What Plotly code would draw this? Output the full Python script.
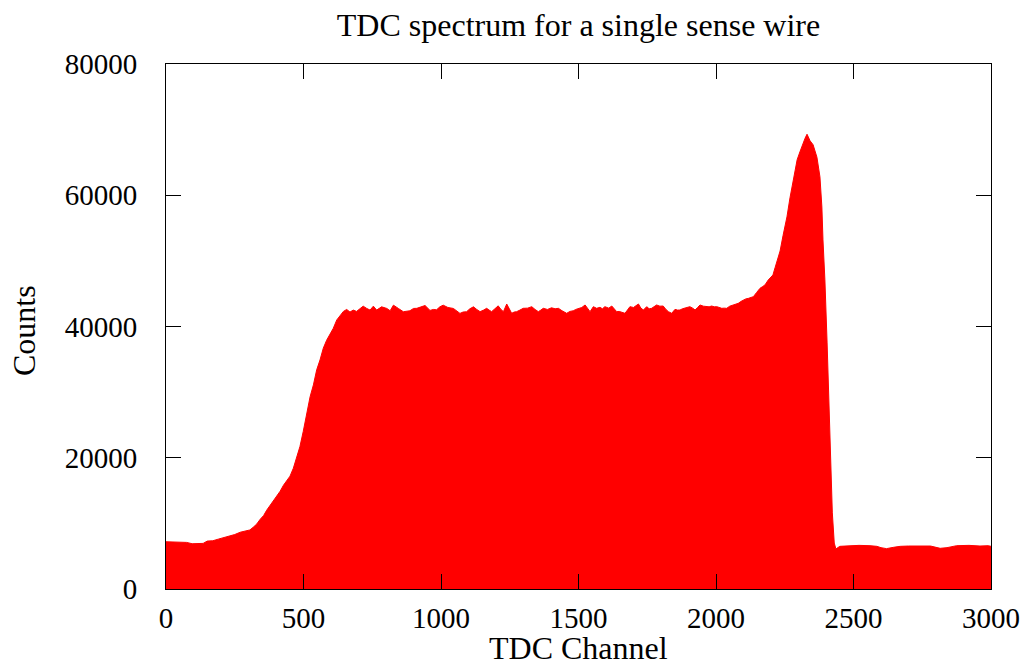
import plotly.graph_objects as go

# TDC channel positions and recorded counts along the spectrum envelope
channel = [
    0, 25, 50, 75, 95, 115, 135, 150, 170, 190, 210, 230, 250, 270, 290, 305,
    317, 330, 342, 355, 366, 380, 390, 402, 415, 427, 440, 451, 463, 475, 487,
    499, 511, 524, 536, 548, 560, 572, 584, 596, 608, 621, 633, 645, 657, 669,
    681, 693, 705, 717, 730, 742, 754, 766, 784, 803, 815, 827, 845, 863, 887,
    900, 912, 926, 942, 960, 972, 984, 996, 1008, 1025, 1045, 1060, 1069, 1080,
    1093, 1105, 1118, 1130, 1142, 1155, 1166, 1175, 1184, 1196, 1208, 1218,
    1227, 1239, 1248, 1257, 1266, 1275, 1287, 1299, 1315, 1330, 1342, 1354,
    1363, 1372, 1387, 1402, 1415, 1427, 1440, 1457, 1469, 1481, 1490, 1499,
    1512, 1524, 1533, 1542, 1554, 1566, 1578, 1587, 1596, 1610, 1621, 1630,
    1639, 1648, 1657, 1669, 1678, 1687, 1700, 1710, 1718, 1727, 1736, 1748,
    1757, 1766, 1775, 1784, 1796, 1808, 1818, 1827, 1839, 1851, 1860, 1869,
    1878, 1887, 1896, 1905, 1915, 1924, 1933, 1942, 1954, 1966, 1975, 1984,
    1994, 2003, 2012, 2021, 2030, 2039, 2050, 2063, 2072, 2081, 2090, 2099,
    2108, 2118, 2127, 2136, 2148, 2160, 2170, 2178, 2190, 2200, 2207, 2215,
    2222, 2233, 2244, 2258, 2269, 2280, 2295, 2305, 2316, 2324, 2331, 2336,
    2342, 2353, 2367, 2378, 2385, 2389, 2396, 2404, 2412, 2423, 2430, 2436,
    2450, 2480, 2520, 2560, 2585, 2600, 2620, 2645, 2670, 2700, 2740, 2780,
    2800, 2815, 2840, 2860, 2875, 2920, 2960, 2990, 3000,
]
counts = [
    7200, 7150, 7200, 7100, 6900, 6950, 6950, 7300, 7350, 7600, 7800, 8050,
    8300, 8650, 8850, 9000, 9400, 9900, 10600, 11200, 12000, 12800, 13300,
    14000, 14900, 15800, 16500, 17200, 18400, 19900, 21700, 24000, 26500,
    29300, 31100, 33400, 34900, 36700, 37900, 38700, 39700, 41000, 41600,
    42300, 42600, 42200, 42500, 42300, 42700, 43100, 42750, 42500, 43100,
    42500, 43000, 42750, 42400, 43250, 42750, 42250, 42400, 42750, 42770,
    43000, 43200, 42450, 42600, 42550, 43000, 43250, 42900, 42750, 42300,
    42000, 42200, 42250, 42700, 43000, 42600, 42260, 42500, 42770, 42500,
    42260, 42700, 43150, 42600, 42260, 43430, 42700, 42010, 42200, 42260,
    42500, 42770, 42800, 43020, 42600, 42260, 42500, 42770, 42600, 42850,
    42700, 42770, 42400, 42010, 42300, 42400, 42600, 42770, 42900, 43280,
    42700, 42260, 43020, 42770, 42920, 42700, 43020, 42800, 43120, 42600,
    42260, 42300, 42160, 42010, 42500, 43020, 42900, 43200, 43430, 42800,
    42510, 43020, 42700, 42770, 43000, 43280, 43100, 43120, 42600, 42260,
    42010, 42610, 42500, 42510, 42700, 42770, 42900, 43020, 42800, 42510,
    42900, 43280, 43100, 43020, 43000, 43120, 43000, 43020, 42900, 42770,
    42800, 42770, 43100, 43280, 43400, 43530, 43800, 44040, 44200, 44290,
    44400, 44550, 45200, 45820, 46100, 46330, 47090, 47500, 47850, 49000,
    50100, 51500, 53900, 56700, 59600, 61900, 65400, 66600, 68000, 68700,
    69300, 68800, 68300, 67700, 65800, 62800, 58200, 53200, 47100, 37500,
    26800, 11600, 7000, 6100, 6500, 6600, 6650, 6600, 6500, 6300, 6150,
    6350, 6500, 6550, 6600, 6550, 6350, 6200, 6300, 6450, 6600, 6650, 6550,
    6600, 6500,
]

x_ticks = [0, 500, 1000, 1500, 2000, 2500, 3000]
y_ticks = [0, 20000, 40000, 60000, 80000]

FONT = "Liberation Serif"
TEXT_SIZE = 32
TICK_SIZE = 29

fig = go.Figure(
    go.Scatter(
        x=channel,
        y=counts,
        mode="lines",
        line=dict(color="#ff0000", width=1),
        fill="tozeroy",
        fillcolor="#ff0000",
        hoverinfo="x+y",
    )
)

axis_common = dict(
    showgrid=False,
    zeroline=False,
    showline=True,
    linecolor="black",
    linewidth=1,
    mirror="ticks",
    ticks="inside",
    ticklen=15,
    tickwidth=1,
    tickcolor="black",
    automargin=False,
    tickfont=dict(family=FONT, size=TICK_SIZE, color="black"),
)

fig.update_xaxes(
    range=[0, 3000],
    tickvals=x_ticks,
    ticktext=[str(v) for v in x_ticks],
    ticklabelstandoff=3,
    **axis_common,
)
fig.update_yaxes(
    range=[0, 80000],
    tickvals=y_ticks,
    ticktext=[str(v) for v in y_ticks],
    ticklabelstandoff=22,
    **axis_common,
)

fig.update_layout(
    width=1026,
    height=669,
    margin=dict(l=166, r=35, t=64, b=80, autoexpand=False),
    paper_bgcolor="white",
    plot_bgcolor="white",
    showlegend=False,
    title=dict(
        text="TDC spectrum for a single sense wire",
        font=dict(family=FONT, size=TEXT_SIZE, color="black"),
        x=0.5,
        xanchor="center",
        xref="paper",
        y=1 - 25 / 669,
        yanchor="middle",
        yref="container",
    ),
    annotations=[
        dict(
            text="TDC Channel",
            xref="paper", yref="paper",
            x=0.5, y=0,
            xanchor="center", yanchor="bottom",
            yshift=-79,
            showarrow=False,
            font=dict(family=FONT, size=TEXT_SIZE, color="black"),
        ),
        dict(
            text="Counts",
            xref="paper", yref="paper",
            x=0, y=0.4914,
            xanchor="center", yanchor="middle",
            xshift=-142,
            textangle=-90,
            showarrow=False,
            font=dict(family=FONT, size=TEXT_SIZE, color="black"),
        ),
    ],
)

fig.write_html("out.html")
